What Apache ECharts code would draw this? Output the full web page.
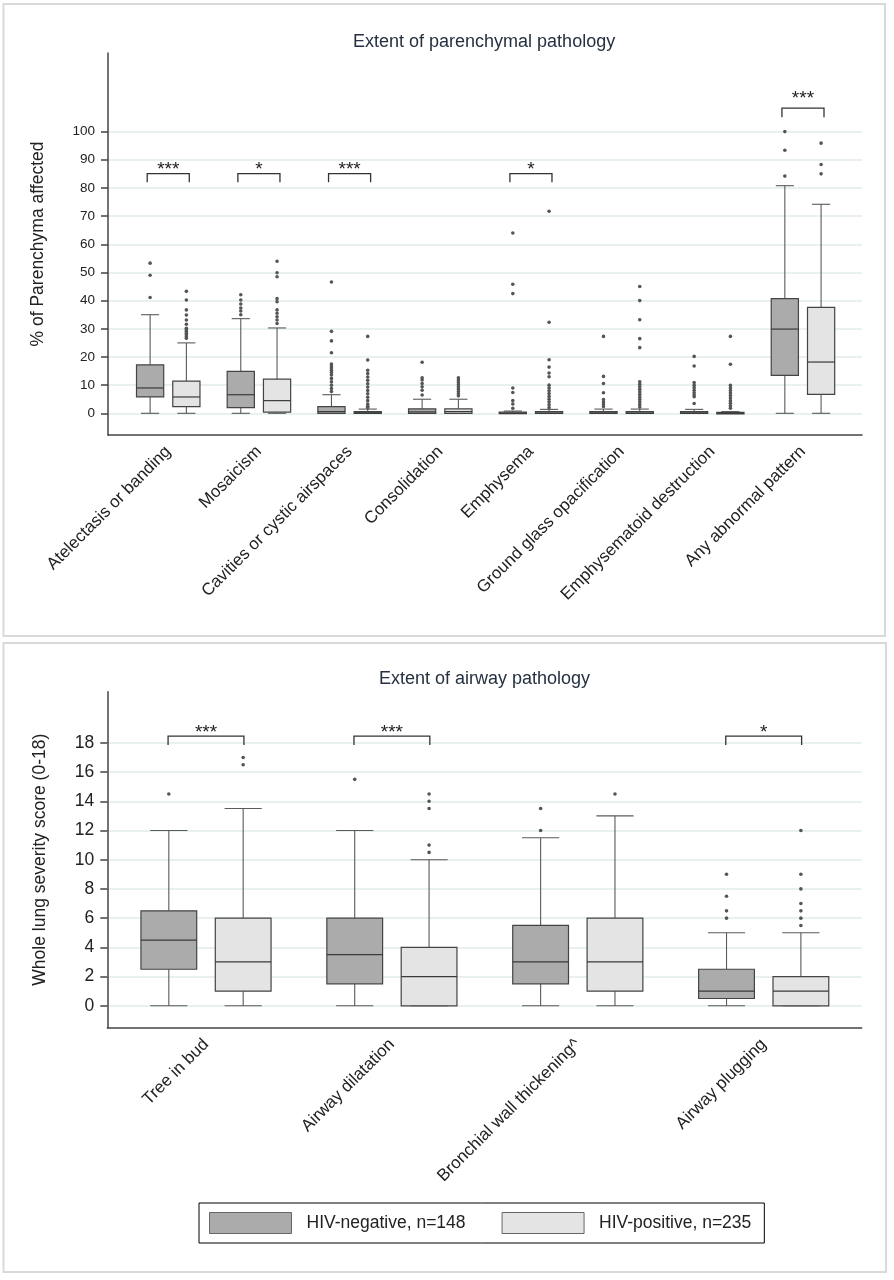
<!DOCTYPE html>
<html><head><meta charset="utf-8">
<script src="https://cdn.jsdelivr.net/npm/echarts@6/dist/echarts.min.js"></script>
<style>html,body{margin:0;padding:0;background:#fff}#c{width:894px;height:1280px}</style>
</head><body><div id="c"></div>
<script>
// ---------- DATA ----------
const parCategories = ['Atelectasis or banding','Mosaicism','Cavities or cystic airspaces','Consolidation','Emphysema','Ground glass opacification','Emphysematoid destruction','Any abnormal pattern'];
const parTicks = [0,10,20,30,40,50,60,70,80,90,100];
// [min, Q1, median, Q3, max]
const parNeg = [[0,5.8,9.0,17.2,35],[0,2.0,6.6,14.9,33.6],[0,0,0.6,2.4,6.6],[0,0,0.5,1.6,5.0],[0,0,0,0.4,0.8],[0,0,0.1,0.6,1.5],[0,0,0.1,0.6,1.4],[0,13.5,29.9,40.7,80.8]];
const parPos = [[0,2.4,5.8,11.4,25],[0,0.4,4.5,12.1,30.3],[0,0,0.2,0.6,1.5],[0,0,0.6,1.6,5.0],[0,0,0.1,0.6,1.4],[0,0,0.1,0.6,1.5],[0,0,0,0.3,0.6],[0,6.7,18.2,37.6,74.2]];
const parNegOutliers = [
 [53.3,49.0,41.1],
 [42.1,40.2,38.8,37.4,36.3,35.0],
 [46.6,29.1,25.7,21.5,17.5,16.8,16.1,15.3,14.5,13.6,12.4,11.2,10.0,8.8,7.7],
 [18.1,12.6,11.8,10.6,9.4,8.2,6.5],
 [64.0,45.8,42.5,9.0,7.4,4.5,3.3,1.8],
 [27.3,13.1,10.6,7.3,4.9,4.0,3.2,2.4],
 [20.2,16.8,10.9,10.0,9.1,8.2,7.3,6.5,5.9,3.5],
 [100,93.4,84.2]
];
const parPosOutliers = [
 [43.3,40.2,36.7,34.9,33.1,31.6,30.2,29.6,29.0,28.4,27.8,27.2,26.6],
 [54.0,49.9,48.5,40.7,39.6,36.7,35.5,34.3,33.1,31.9],
 [27.3,18.9,15.3,14.1,12.9,11.7,10.5,9.3,8.1,6.9,5.7,4.5,3.3,2.5,2.0],
 [12.6,11.8,11.0,10.2,9.4,8.6,7.8,7.0,6.2],
 [71.7,32.3,19.0,16.4,14.3,13.0,10.0,9.0,8.0,7.0,6.0,5.0,4.0,3.0,2.0],
 [45.0,40.0,33.2,26.5,23.3,11.2,10.3,9.4,8.5,7.6,6.7,5.8,4.9,4.0,3.1,2.2],
 [27.3,17.4,9.9,9.0,8.1,7.2,6.3,5.4,4.5,3.6,2.7,1.8],
 [95.9,88.3,85.0]
];
const parSigCats = [0,1,2,4,7];
const parSigLabels = ['***','*','***','*','***'];
const parSigTop = [85.1,85.1,85.1,85.1,108.3];
const parSigLeg = [82.0,82.0,82.0,82.0,105.1];
const parSigStar = [86.4,86.4,86.4,86.4,111.8];

const airCategories = ['Tree in bud','Airway dilatation','Bronchial wall thickening^','Airway plugging'];
const airTicks = [0,2,4,6,8,10,12,14,16,18];
const airNeg = [[0,2.5,4.5,6.5,12],[0,1.5,3.5,6,12],[0,1.5,3,5.5,11.5],[0,0.5,1,2.5,5]];
const airPos = [[0,1,3,6,13.5],[0,0,2,4,10],[0,1,3,6,13],[0,0,1,2,5]];
const airNegOutliers = [[14.5],[15.5],[13.5,12],[9,7.5,6.5,6]];
const airPosOutliers = [[17,16.5],[14.5,14,13.5,11,10.5],[14.5],[12,9,8,7,6.5,6,5.5]];
const airSigCats = [0,1,3];
const airSigLabels = ['***','***','*'];
const airSigTop = [18.46,18.46,18.46];
const airSigLeg = [17.85,17.85,17.85];
const airSigStar = [18.7,18.7,18.7];

const NEG = 'HIV-negative, n=148', POS = 'HIV-positive, n=235';
const NEG_FILL = '#ababab', POS_FILL = '#e4e4e4';
const FONT = '"Liberation Sans", Arial, sans-serif';

// ---------- RENDERERS ----------
const BOX_OFF = 0.2, BOX_W = 0.3, CAP_W = 0.2;
function boxRenderer(side, fill){
  return function(params, api){
    const i = api.value(0);
    const band = api.size([1,0])[0];
    const cx = api.coord([i,0])[0] + side*BOX_OFF*band;
    const hw = BOX_W*band/2, cw = CAP_W*band/2;
    const y = v => api.coord([i,v])[1];
    const ymin=y(api.value(1)), yq1=y(api.value(2)), ymd=y(api.value(3)), yq3=y(api.value(4)), ymax=y(api.value(5));
    const ls = {stroke:'#5a5a5a', lineWidth:1.1};
    return {type:'group', children:[
      {type:'line', shape:{x1:cx,y1:yq3,x2:cx,y2:ymax}, style:ls},
      {type:'line', shape:{x1:cx,y1:yq1,x2:cx,y2:ymin}, style:ls},
      {type:'line', shape:{x1:cx-cw,y1:ymax,x2:cx+cw,y2:ymax}, style:ls},
      {type:'line', shape:{x1:cx-cw,y1:ymin,x2:cx+cw,y2:ymin}, style:ls},
      {type:'rect', shape:{x:cx-hw,y:yq3,width:2*hw,height:Math.max(yq1-yq3,1.5)}, style:{fill:fill, stroke:'#444', lineWidth:1.2}},
      {type:'line', shape:{x1:cx-hw,y1:ymd,x2:cx+hw,y2:ymd}, style:{stroke:'#3a3a3a', lineWidth:1.2}}
    ]};
  };
}
function outRenderer(side){
  return function(params, api){
    const i = api.value(0);
    const band = api.size([1,0])[0];
    const p = api.coord([i, api.value(1)]);
    return {type:'circle', shape:{cx:p[0]+side*BOX_OFF*band, cy:p[1], r:1.8}, style:{fill:'#555'}};
  };
}
function sigRenderer(labels, half){
  return function(params, api){
    const i = api.value(0);
    const band = api.size([1,0])[0];
    const cx = api.coord([i,0])[0];
    const yt = api.coord([i, api.value(1)])[1];
    const yl = api.coord([i, api.value(2)])[1];
    const ys = api.coord([i, api.value(3)])[1];
    const x1 = cx - half*band, x2 = cx + half*band;
    return {type:'group', children:[
      {type:'polyline', shape:{points:[[x1,yl],[x1,yt],[x2,yt],[x2,yl]]}, style:{stroke:'#333', lineWidth:1.3, fill:null}},
      {type:'text', x:cx, y:ys, style:{text:labels[params.dataIndex], fontSize:19, fontFamily:FONT, fill:'#222', align:'center', verticalAlign:'middle'}}
    ]};
  };
}
function flatOut(list){ const r=[]; list.forEach((vals,i)=>vals.forEach(v=>r.push([i,v]))); return r; }
function boxData(list){ return list.map((s,i)=>[i].concat(s)); }
function sigData(cats, top, leg, star){ return cats.map((c,k)=>[c, top[k], leg[k], star[k]]); }

// ---------- OPTION ----------
const axisLS = {color:'#444', width:1.5};
const gridLS = {color:'#e2ebeb', width:1.5};
const option = {
  animation:false,
  textStyle:{fontFamily:FONT},
  title:[
    {text:'Extent of parenchymal pathology', left:353, top:33, padding:0, textStyle:{fontSize:18, fontWeight:'normal', color:'#253040', fontFamily:FONT}},
    {text:'Extent of airway pathology', left:379, top:670, padding:0, textStyle:{fontSize:18, fontWeight:'normal', color:'#253040', fontFamily:FONT}}
  ],
  legend:{
    data:[
      {name:NEG, icon:'rect', itemStyle:{color:NEG_FILL, borderColor:'#666', borderWidth:1}},
      {name:POS, icon:'rect', itemStyle:{color:POS_FILL, borderColor:'#666', borderWidth:1}}
    ],
    left:199, top:1203, itemWidth:82, itemHeight:21, itemGap:36,
    padding:[9,13,9,10], borderColor:'#000', borderWidth:1,
    selectedMode:false,
    textStyle:{fontSize:17.5, color:'#222', fontFamily:FONT, padding:[0,0,0,10]}
  },
  graphic:[
    {type:'rect', shape:{x:3.5,y:4,width:881.5,height:632}, style:{fill:null, stroke:'#d9d9d9', lineWidth:2}, silent:true},
    {type:'rect', shape:{x:3.5,y:643,width:882.5,height:629}, style:{fill:null, stroke:'#d9d9d9', lineWidth:2}, silent:true}
  ],
  grid:[
    {left:108, top:53, width:754, height:382, outerBoundsMode:'none'},
    {left:122.9, top:53, width:725.4, height:382, outerBoundsMode:'none'},
    {left:107.3, top:691.7, width:754.4, height:336, outerBoundsMode:'none'},
    {left:113.05, top:691.7, width:743.6, height:336, outerBoundsMode:'none'}
  ],
  xAxis:[
    {type:'value', gridIndex:0, min:0, max:1, axisLine:{show:true, onZero:false, lineStyle:axisLS}, axisTick:{show:false}, axisLabel:{show:false}, splitLine:{show:false}},
    {type:'category', gridIndex:1, data:parCategories, axisLine:{show:false}, axisTick:{show:false}, splitLine:{show:false},
      axisLabel:{interval:0, rotate:45, margin:14, fontSize:17, color:'#222', fontFamily:FONT}},
    {type:'value', gridIndex:2, min:0, max:1, axisLine:{show:true, onZero:false, lineStyle:axisLS}, axisTick:{show:false}, axisLabel:{show:false}, splitLine:{show:false}},
    {type:'category', gridIndex:3, data:airCategories, axisLine:{show:false}, axisTick:{show:false}, splitLine:{show:false},
      axisLabel:{interval:0, rotate:45, margin:14, fontSize:17, color:'#222', fontFamily:FONT}}
  ],
  yAxis:[
    {type:'value', gridIndex:0, min:-7.7, max:127.9,
      axisLine:{show:true, onZero:false, lineStyle:axisLS},
      axisTick:{show:true, length:7, customValues:parTicks, lineStyle:axisLS},
      axisLabel:{customValues:parTicks, fontSize:13.5, margin:13, color:'#222', fontFamily:FONT},
      splitLine:{show:true, lineStyle:gridLS},
      name:'% of Parenchyma affected', nameLocation:'middle', nameGap:61,
      nameTextStyle:{fontSize:17.5, color:'#222', fontFamily:FONT}},
    {type:'value', gridIndex:1, min:-7.7, max:127.9, show:false},
    {type:'value', gridIndex:2, min:-1.5, max:21.5,
      axisLine:{show:true, onZero:false, lineStyle:axisLS},
      axisTick:{show:true, length:7, customValues:airTicks, lineStyle:axisLS},
      axisLabel:{customValues:airTicks, fontSize:17.5, margin:13, color:'#222', fontFamily:FONT},
      splitLine:{show:true, lineStyle:gridLS},
      name:'Whole lung severity score (0-18)', nameLocation:'middle', nameGap:58,
      nameTextStyle:{fontSize:17.5, color:'#222', fontFamily:FONT}},
    {type:'value', gridIndex:3, min:-1.5, max:21.5, show:false}
  ],
  series:[
    {name:NEG, type:'custom', xAxisIndex:1, yAxisIndex:1, data:boxData(parNeg), encode:{x:0,y:[1,2,3,4,5]}, renderItem:boxRenderer(-1,NEG_FILL), itemStyle:{color:NEG_FILL}, silent:true},
    {name:POS, type:'custom', xAxisIndex:1, yAxisIndex:1, data:boxData(parPos), encode:{x:0,y:[1,2,3,4,5]}, renderItem:boxRenderer(1,POS_FILL), itemStyle:{color:POS_FILL}, silent:true},
    {name:'negOutTop', type:'custom', xAxisIndex:1, yAxisIndex:1, data:flatOut(parNegOutliers), encode:{x:0,y:1}, renderItem:outRenderer(-1), silent:true},
    {name:'posOutTop', type:'custom', xAxisIndex:1, yAxisIndex:1, data:flatOut(parPosOutliers), encode:{x:0,y:1}, renderItem:outRenderer(1), silent:true},
    {name:'sigTop', type:'custom', xAxisIndex:1, yAxisIndex:1, data:sigData(parSigCats,parSigTop,parSigLeg,parSigStar), encode:{x:0,y:[1,2,3]}, renderItem:sigRenderer(parSigLabels,0.232), silent:true},
    {name:NEG, type:'custom', xAxisIndex:3, yAxisIndex:3, data:boxData(airNeg), encode:{x:0,y:[1,2,3,4,5]}, renderItem:boxRenderer(-1,NEG_FILL), itemStyle:{color:NEG_FILL}, silent:true},
    {name:POS, type:'custom', xAxisIndex:3, yAxisIndex:3, data:boxData(airPos), encode:{x:0,y:[1,2,3,4,5]}, renderItem:boxRenderer(1,POS_FILL), itemStyle:{color:POS_FILL}, silent:true},
    {name:'negOutBot', type:'custom', xAxisIndex:3, yAxisIndex:3, data:flatOut(airNegOutliers), encode:{x:0,y:1}, renderItem:outRenderer(-1), silent:true},
    {name:'posOutBot', type:'custom', xAxisIndex:3, yAxisIndex:3, data:flatOut(airPosOutliers), encode:{x:0,y:1}, renderItem:outRenderer(1), silent:true},
    {name:'sigBot', type:'custom', xAxisIndex:3, yAxisIndex:3, data:sigData(airSigCats,airSigTop,airSigLeg,airSigStar), encode:{x:0,y:[1,2,3]}, renderItem:sigRenderer(airSigLabels,0.204), silent:true}
  ]
};
const chart = echarts.init(document.getElementById('c'), null, {renderer:'canvas'});
chart.setOption(option);
</script></body></html>
